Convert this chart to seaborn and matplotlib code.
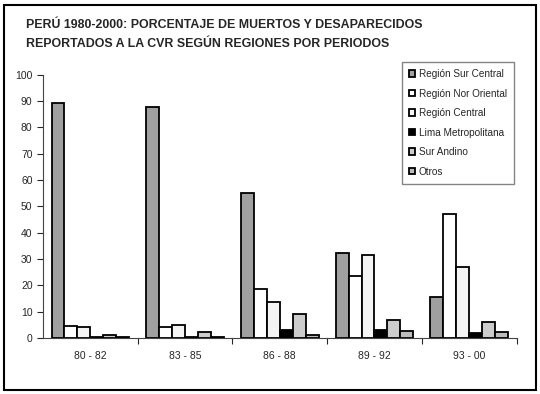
import pandas as pd
import seaborn as sns
import matplotlib.pyplot as plt
from matplotlib.patches import Rectangle

# Periodos y regiones
periodos = ['80 - 82', '83 - 85', '86 - 88', '89 - 92', '93 - 00']
regiones = ['Región Sur Central', 'Región Nor Oriental', 'Región Central',
            'Lima Metropolitana', 'Sur Andino', 'Otros']

# Porcentajes (por region, en orden de periodos)
sur_central = [89.3, 87.6, 55.0, 32.5, 15.5]
nor_oriental = [4.7, 4.3, 18.5, 23.5, 47.0]
central = [4.3, 5.0, 13.8, 31.7, 27.0]
lima = [0.3, 0.3, 2.9, 3.0, 2.0]
sur_andino = [1.2, 2.2, 9.0, 7.0, 6.0]
otros = [0.4, 0.3, 1.0, 2.5, 2.3]

colores = ['#a0a0a0', '#ffffff', '#f4f4f4', '#000000', '#cccccc', '#bdbdbd']

rows = []
for reg, vals in zip(regiones, [sur_central, nor_oriental, central, lima, sur_andino, otros]):
    for p, v in zip(periodos, vals):
        rows.append({'periodo': p, 'region': reg, 'pct': v})
df = pd.DataFrame(rows)

sns.set_style('white')
plt.rcParams['font.family'] = ['Liberation Sans', 'DejaVu Sans']

fig = plt.figure(figsize=(5.4, 3.94), dpi=100)
ax = fig.add_axes([0.0796, 0.142, 0.877, 0.668])

sns.barplot(data=df, x='periodo', y='pct', hue='region', hue_order=regiones,
            order=periodos, palette=colores, width=0.82, gap=0,
            edgecolor='black', linewidth=1.3, ax=ax, legend=True)

ax.set_ylim(0, 100)
ax.set_xlim(-0.5, 4.5)
ax.set_yticks(range(0, 101, 10))
ax.set_xlabel('')
ax.set_ylabel('')
ax.set_xticks([0.5, 1.5, 2.5, 3.5, 4.5], minor=True)
ax.tick_params(axis='x', which='major', length=0, labelsize=7.5, pad=9)
ax.tick_params(axis='x', which='minor', length=4, direction='out', bottom=True, width=0.8)
ax.tick_params(axis='y', length=4, direction='out', left=True, labelsize=7.5, width=0.8)
sns.despine(ax=ax)
for s in ['left', 'bottom']:
    ax.spines[s].set_color('#444444')
    ax.spines[s].set_linewidth(0.8)

handles, labels = ax.get_legend_handles_labels()
ax.legend(handles, labels, loc='upper left', bbox_to_anchor=(0.735, 0.855),
          bbox_transform=fig.transFigure, fontsize=7.2, frameon=True,
          fancybox=False, edgecolor='#666666', handlelength=0.6,
          handleheight=0.6, handletextpad=0.4, labelspacing=0.95,
          borderpad=0.7)

fig.text(0.048, 0.936, 'PERÚ 1980-2000: PORCENTAJE DE MUERTOS Y DESAPARECIDOS',
         fontsize=8.9, fontweight='bold', ha='left', va='center')
fig.text(0.048, 0.889, 'REPORTADOS A LA CVR SEGÚN REGIONES POR PERIODOS',
         fontsize=8.9, fontweight='bold', ha='left', va='center')

fig.patches.append(Rectangle((0.008, 0.01), 0.984, 0.978, transform=fig.transFigure,
                             fill=False, edgecolor='black', linewidth=1.5))

fig.savefig('out.png', dpi=100)
